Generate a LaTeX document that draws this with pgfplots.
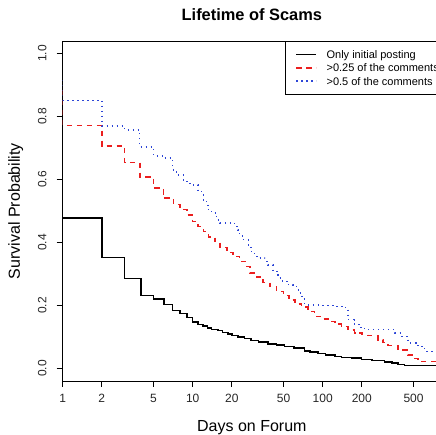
\documentclass[border=0pt]{standalone}
\usepackage{fontspec}
\setmainfont{Liberation Sans}
\usepackage{pgfplots}
\usepackage{pgfplotstable}
\pgfplotsset{compat=1.18}

\definecolor{kmred}{RGB}{235,30,30}
\definecolor{kmblue}{RGB}{45,70,215}

% Kaplan-Meier survival estimates: day, survival probability
\pgfplotstableread{
day surv
1 0.477
2 0.352
3 0.285
4 0.231
5 0.221
6 0.203
7 0.184
8 0.174
9 0.161
10 0.147
11 0.140
12 0.134
13 0.128
14 0.124
15.7 0.120
17 0.114
18.7 0.109
20 0.105
22.3 0.100
25 0.095
28.2 0.089
32 0.084
37.9 0.078
44 0.074
51 0.070
60 0.065
72.7 0.056
80 0.052
92 0.047
105 0.043
124 0.038
140 0.035
166 0.033
198 0.028
240 0.025
300 0.020
340 0.017
379 0.012
427 0.009
813 0.009
}\initialonly

\pgfplotstableread{
day surv
1 0.885
1 0.771
2 0.707
3 0.654
3.93 0.608
5 0.573
5.94 0.541
7.1 0.520
8 0.504
9 0.488
10 0.467
11 0.451
12.1 0.435
13.2 0.417
14.8 0.403
16.2 0.384
18.3 0.368
20.5 0.356
23 0.340
25.4 0.324
27.5 0.303
31 0.290
34.8 0.273
39.3 0.260
44.3 0.244
49.9 0.231
55 0.218
61.3 0.205
68.5 0.195
77 0.180
86.7 0.165
98 0.157
110 0.149
124 0.141
139 0.133
157 0.122
176 0.112
200 0.108
223 0.104
266 0.091
290 0.082
318 0.072
380 0.058
453 0.043
500 0.032
541 0.022
813 0.022
}\quartercomments

\pgfplotstableread{
day surv
1 0.916
1 0.851
2 0.770
3 0.758
3.9 0.703
5 0.675
6 0.668
7 0.631
7.5 0.615
8.5 0.594
9.5 0.583
11 0.562
11.7 0.551
12.1 0.535
12.8 0.525
13.1 0.504
14 0.493
15.3 0.472
16.2 0.462
21 0.451
22.4 0.440
23 0.421
24.5 0.409
26.8 0.387
28 0.371
30 0.356
32 0.350
35.8 0.340
38 0.329
41.5 0.308
45.5 0.287
49 0.276
54 0.266
59.3 0.260
65 0.239
69 0.220
72.7 0.202
100 0.200
120 0.197
148 0.193
156.6 0.155
175 0.140
190 0.130
210 0.123
358 0.112
403 0.102
453 0.081
520 0.073
570 0.070
609 0.054
813 0.054
}\halfcomments

\begin{document}
\begin{tikzpicture}
\begin{axis}[
  at={(62.7pt,54pt)}, anchor=south west,
  scale only axis, width=378.3pt, height=340pt,
  xmode=log, xmin=1, xmax=813,
  ymin=-0.04, ymax=1.04,
  axis line style={line width=0.8pt},
  every tick/.style={black, line width=0.8pt},
  tick align=outside, major tick length=6pt,
  xtick pos=bottom, ytick pos=left,
  xminorticks=false,
  xtick={1,2,5,10,20,50,100,200,500},
  xticklabels={1,2,5,10,20,50,100,200,500},
  ytick={0,0.2,0.4,0.6,0.8,1.0},
  yticklabels={0.0,0.2,0.4,0.6,0.8,1.0},
  /pgf/number format/assume math mode=true,
  ticklabel style={font=\fontsize{12}{14}\selectfont, text=black!85},
  xticklabel style={anchor=base, yshift=-16pt},
  yticklabel style={rotate=90, anchor=base, yshift=10.3pt},
  title={Lifetime of Scams},
  title style={font=\fontsize{16.4}{19}\selectfont\bfseries,
    at={(axis description cs:0.5,1)}, anchor=base, yshift=14.3pt},
  xlabel={Days on Forum},
  xlabel style={font=\fontsize{16}{19}\selectfont,
    at={(axis description cs:0.5,0)}, anchor=base, yshift=-50.7pt},
  ylabel={Survival Probability},
  ylabel style={font=\fontsize{16}{19}\selectfont,
    at={(axis description cs:-0.1129,0.5)}, anchor=base, rotate=0},
  legend cell align=left,
  legend image code/.code={\draw[#1] (0pt,0pt) -- (20pt,0pt);},
  legend style={at={(rel axis cs:0.5884,1)}, anchor=north west,
    draw=black, line width=0.8pt, inner xsep=10pt, inner ysep=6.5pt,
    row sep=0pt, column sep=0pt,
    font=\fontsize{11}{13.3}\selectfont,
    nodes={inner sep=0pt, text height=10.8pt, text depth=2.5pt},
    /tikz/every odd column/.style={column sep=9.4pt}},
]
\addplot[const plot, black, line width=1.5pt] table[x=day, y=surv] {\initialonly};
\addlegendentry{Only initial posting}
\addplot[const plot, kmred, line width=1.5pt, dash pattern=on 5.3pt off 4.7pt] table[x=day, y=surv] {\quartercomments};
\addlegendentry{>0.25 of the comments}
\addplot[const plot, kmblue, line width=1.5pt, dash pattern=on 1.3pt off 3.7pt] table[x=day, y=surv] {\halfcomments};
\addlegendentry{>0.5 of the comments}
\end{axis}
\pgfresetboundingbox
\useasboundingbox (0pt,0pt) rectangle (436pt,435pt);
\end{tikzpicture}
\end{document}
